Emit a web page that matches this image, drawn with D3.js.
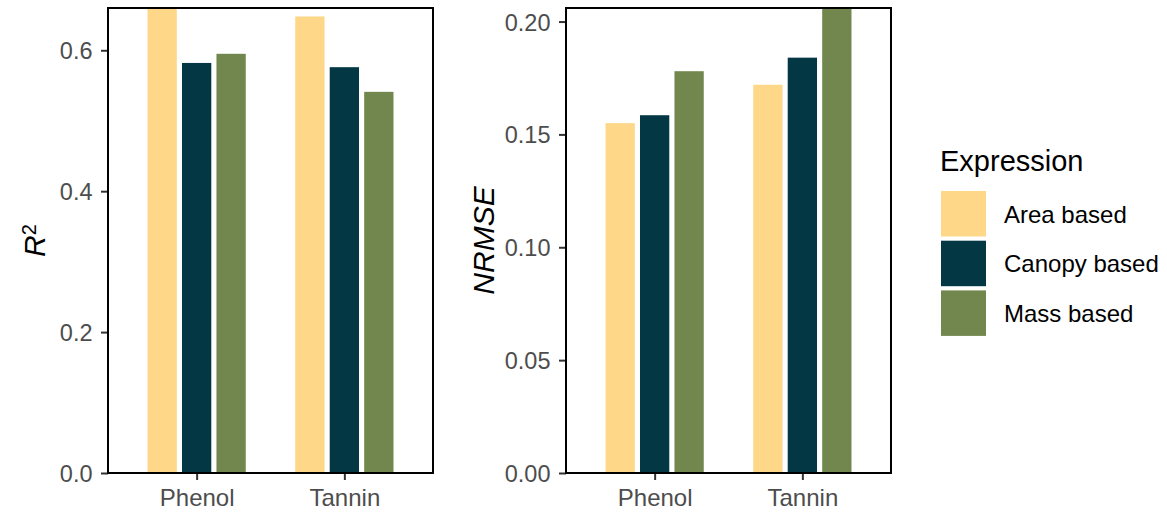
<!DOCTYPE html>
<html>
<head>
<meta charset="utf-8">
<script src="https://cdn.jsdelivr.net/npm/d3@7"></script>
<style>
  html, body { margin: 0; padding: 0; background: #fff; }
  svg { display: block; }
  text { font-family: "Liberation Sans", Arial, sans-serif; }
</style>
</head>
<body>
<svg id="chart" width="1167" height="512"></svg>
<script>
// ---- data ----
const categories = ["Phenol", "Tannin"];
const series = ["Area based", "Canopy based", "Mass based"];
const colors = ["#FED789", "#023743", "#72874E"];
const r2Values = {
  "Area based":   [0.66, 0.648],
  "Canopy based": [0.582, 0.576],
  "Mass based":   [0.595, 0.541]
};
const nrmseValues = {
  "Area based":   [0.155, 0.172],
  "Canopy based": [0.1585, 0.184],
  "Mass based":   [0.178, 0.206]
};
const r2Ticks = [0.0, 0.2, 0.4, 0.6];
const nrmseTicks = [0.00, 0.05, 0.10, 0.15, 0.20];
const r2Max = 0.66;
const nrmseMax = 0.206;
const legendTitle = "Expression";

// ---- drawing ----
const svg = d3.select("#chart");
const panelTop = 8, panelBottom = 473;
const color = d3.scaleOrdinal().domain(series).range(colors);

function panel(x0, x1, values, ticks, maxV, fmt, titleFn, titleX) {
  const g = svg.append("g");
  // ggplot-style discrete expansion: 0.6 units each side
  const xUnit = d3.scaleLinear().domain([0.4, 2.6]).range([x0, x1]);
  const y = d3.scaleLinear().domain([0, maxV]).range([panelBottom, panelTop]);
  const groupW = 0.7;
  const slot = d3.scaleBand().domain(series).range([-groupW / 2, groupW / 2]);
  const barFrac = 0.85;

  const clipId = "clip" + Math.round(x0);
  svg.append("clipPath").attr("id", clipId)
    .append("rect").attr("x", x0).attr("y", panelTop).attr("width", x1 - x0).attr("height", panelBottom - panelTop);

  const bars = g.append("g").attr("clip-path", `url(#${clipId})`);
  series.forEach(s => {
    categories.forEach((c, i) => {
      const cx = i + 1 + slot(s) + slot.bandwidth() / 2;
      const w = (xUnit(1 + slot.bandwidth()) - xUnit(1)) * barFrac;
      const v = values[s][i];
      bars.append("rect")
        .attr("x", xUnit(cx) - w / 2)
        .attr("width", w)
        .attr("y", y(v))
        .attr("height", y(0) - y(v))
        .attr("fill", color(s));
    });
  });

  // y axis
  const yAxis = d3.axisLeft(y).tickValues(ticks).tickFormat(d3.format(fmt)).tickSize(7).tickPadding(8.5);
  const ya = g.append("g").attr("transform", `translate(${x0},0)`).call(yAxis);
  ya.select(".domain").remove();
  ya.selectAll(".tick line").attr("stroke", "#333").attr("stroke-width", 2);
  ya.selectAll(".tick text").attr("fill", "#4d4d4d").style("font-size", "23.5px")
    .attr("dy", "0.36em");

  // x axis
  const xAxis = d3.axisBottom(xUnit).tickValues([1, 2]).tickFormat(d => categories[d - 1]).tickSize(7).tickPadding(6);
  const xa = g.append("g").attr("transform", `translate(0,${panelBottom})`).call(xAxis);
  xa.select(".domain").remove();
  xa.selectAll(".tick line").attr("stroke", "#333").attr("stroke-width", 2);
  xa.selectAll(".tick text").attr("fill", "#4d4d4d").style("font-size", "24px").attr("dy", "0.85em");

  // border
  g.append("rect").attr("x", x0).attr("y", panelTop).attr("width", x1 - x0).attr("height", panelBottom - panelTop)
    .attr("fill", "none").attr("stroke", "#000").attr("stroke-width", 2);

  // axis title
  const t = g.append("text")
    .attr("transform", `translate(${titleX},${(panelTop + panelBottom) / 2}) rotate(-90)`)
    .attr("text-anchor", "middle")
    .attr("fill", "#000")
    .style("font-size", "30px");
  titleFn(t);
}

panel(108, 433, r2Values, r2Ticks, r2Max, ".1f", t => {
  t.append("tspan").style("font-style", "italic").text("R");
  t.append("tspan").attr("dy", "-0.45em").style("font-size", "20px").text("2");
}, 45);

panel(566, 891, nrmseValues, nrmseTicks, nrmseMax, ".2f", t => {
  t.style("font-style", "italic").text("NRMSE");
}, 494);

// legend
const lg = svg.append("g");
lg.append("text").attr("x", 940).attr("y", 170.5).style("font-size", "29px").attr("fill", "#000").text(legendTitle);
series.forEach((s, i) => {
  const ky = 191 + i * 49.7;
  lg.append("rect").attr("x", 941).attr("y", ky).attr("width", 45).attr("height", 45.5).attr("fill", color(s));
  lg.append("text").attr("x", 1004).attr("y", ky + 23).attr("dy", "0.36em")
    .style("font-size", "24px").attr("fill", "#000").text(s);
});
</script>
</body>
</html>
